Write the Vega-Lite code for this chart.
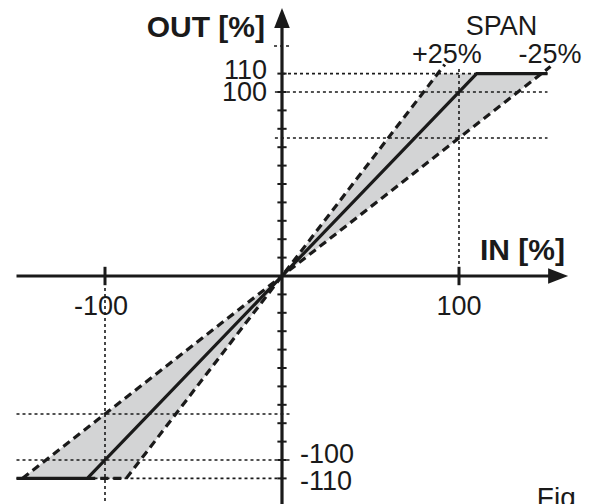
{
  "$schema": "https://vega.github.io/schema/vega-lite/v6.json",
  "width": 593,
  "height": 504,
  "autosize": {"type": "none"},
  "padding": 0,
  "background": "white",
  "config": {"view": {"stroke": null}, "text": {"font": "Liberation Sans", "color": "#1a1a1a"}},
  "layer": [
    {
      "data": {"values": [
        {"part": "up", "x": 0, "y": 0, "y2": 0},
        {"part": "up", "x": 88, "y": 110, "y2": 66},
        {"part": "up", "x": 146.7, "y": 110, "y2": 110},
        {"part": "down", "x": -146.7, "y": -110, "y2": -110},
        {"part": "down", "x": -88, "y": -66, "y2": -110},
        {"part": "down", "x": 0, "y": 0, "y2": 0}
      ]},
      "mark": {"type": "area", "color": "#d3d4d5", "opacity": 1},
      "encoding": {
        "x": {"field": "x", "type": "quantitative", "scale": {"domain": [-159.32, 175.71], "nice": false, "zero": false}, "axis": null},
        "y": {"field": "y", "type": "quantitative", "scale": {"domain": [-123.91, 150], "nice": false, "zero": false}, "axis": null},
        "y2": {"field": "y2"},
        "detail": {"field": "part"}
      }
    },
    {
      "data": {"values": [
        {"x": 0, "y": 110, "x2": 150, "y2": 110},
        {"x": -4, "y": 100, "x2": 150, "y2": 100},
        {"x": -4, "y": 75, "x2": 150, "y2": 75},
        {"x": 100, "y": 0, "x2": 100, "y2": 114},
        {"x": -150, "y": -75, "x2": 5.5, "y2": -75},
        {"x": -150, "y": -100, "x2": 5.5, "y2": -100},
        {"x": -150, "y": -110, "x2": 0, "y2": -110},
        {"x": -100, "y": 0, "x2": -100, "y2": -124},
        {"x": -4.5, "y": 125, "x2": 5, "y2": 125}
      ]},
      "mark": {"type": "rule", "color": "#1a1a1a", "strokeWidth": 1.6, "strokeDash": [3, 3]},
      "encoding": {
        "x": {"field": "x", "type": "quantitative", "scale": {"domain": [-159.32, 175.71], "nice": false, "zero": false}, "axis": null},
        "y": {"field": "y", "type": "quantitative", "scale": {"domain": [-123.91, 150], "nice": false, "zero": false}, "axis": null},
        "x2": {"field": "x2"},
        "y2": {"field": "y2"}
      }
    },
    {
      "data": {"values": [
        {"series": "+25%", "x": -110, "y": -110},
        {"series": "+25%", "x": -88, "y": -110},
        {"series": "+25%", "x": 92, "y": 115},
        {"series": "-25%", "x": -146.7, "y": -110},
        {"series": "-25%", "x": 151.7, "y": 113.8}
      ]},
      "mark": {"type": "line", "color": "#1a1a1a", "strokeWidth": 3.2, "strokeDash": [8, 5]},
      "encoding": {
        "x": {"field": "x", "type": "quantitative", "scale": {"domain": [-159.32, 175.71], "nice": false, "zero": false}, "axis": null},
        "y": {"field": "y", "type": "quantitative", "scale": {"domain": [-123.91, 150], "nice": false, "zero": false}, "axis": null},
        "detail": {"field": "series"}
      }
    },
    {
      "data": {"values": [
        {"x": -150, "y": -110},
        {"x": -110, "y": -110},
        {"x": 110, "y": 110},
        {"x": 150, "y": 110}
      ]},
      "mark": {"type": "line", "color": "#1a1a1a", "strokeWidth": 3.2},
      "encoding": {
        "x": {"field": "x", "type": "quantitative", "scale": {"domain": [-159.32, 175.71], "nice": false, "zero": false}, "axis": null},
        "y": {"field": "y", "type": "quantitative", "scale": {"domain": [-123.91, 150], "nice": false, "zero": false}, "axis": null}
      }
    },
    {
      "data": {"values": [
        {"x": -150, "y": 0, "x2": 156, "y2": 0},
        {"x": 0, "y": -124, "x2": 0, "y2": 140}
      ]},
      "mark": {"type": "rule", "color": "#1a1a1a", "strokeWidth": 3.2},
      "encoding": {
        "x": {"field": "x", "type": "quantitative", "scale": {"domain": [-159.32, 175.71], "nice": false, "zero": false}, "axis": null},
        "y": {"field": "y", "type": "quantitative", "scale": {"domain": [-123.91, 150], "nice": false, "zero": false}, "axis": null},
        "x2": {"field": "x2"},
        "y2": {"field": "y2"}
      }
    },
    {
      "data": {"values": [
        {"v": -110}, {"v": -100}, {"v": -90}, {"v": -80}, {"v": -70}, {"v": -60}, {"v": -50}, {"v": -40}, {"v": -30}, {"v": -20}, {"v": -10},
        {"v": 10}, {"v": 20}, {"v": 30}, {"v": 40}, {"v": 50}, {"v": 60}, {"v": 70}, {"v": 80}, {"v": 90}, {"v": 100}, {"v": 110}
      ]},
      "mark": {"type": "rule", "color": "#1a1a1a", "strokeWidth": 2},
      "encoding": {
        "x": {"datum": -2.6, "type": "quantitative", "scale": {"domain": [-159.32, 175.71], "nice": false, "zero": false}, "axis": null},
        "x2": {"datum": 2.6},
        "y": {"field": "v", "type": "quantitative", "scale": {"domain": [-123.91, 150], "nice": false, "zero": false}, "axis": null}
      }
    },
    {
      "data": {"values": [{"v": -100}, {"v": 100}]},
      "mark": {"type": "rule", "color": "#1a1a1a", "strokeWidth": 3},
      "encoding": {
        "x": {"field": "v", "type": "quantitative", "scale": {"domain": [-159.32, 175.71], "nice": false, "zero": false}, "axis": null},
        "y": {"datum": -5, "type": "quantitative", "scale": {"domain": [-123.91, 150], "nice": false, "zero": false}, "axis": null},
        "y2": {"datum": 5}
      }
    },
    {
      "data": {"values": [
        {"dir": "right", "x": 156, "y": 0},
        {"dir": "up", "x": 0, "y": 140.2}
      ]},
      "mark": {"type": "point", "filled": true, "opacity": 1, "color": "#1a1a1a", "strokeWidth": 0, "size": 400},
      "encoding": {
        "x": {"field": "x", "type": "quantitative", "scale": {"domain": [-159.32, 175.71], "nice": false, "zero": false}, "axis": null},
        "y": {"field": "y", "type": "quantitative", "scale": {"domain": [-123.91, 150], "nice": false, "zero": false}, "axis": null},
        "shape": {"field": "dir", "type": "nominal", "scale": {"domain": ["right", "up"], "range": ["M-1,-0.78L1,0L-1,0.78Z", "M-0.78,1L0,-1L0.78,1Z"]}, "legend": null}
      }
    },
    {
      "data": {"values": [
        {"t": "OUT [%]", "x": -9.6, "y": 130},
        {"t": "IN [%]", "x": 159.9, "y": 8.7}
      ]},
      "mark": {"type": "text", "align": "right", "baseline": "alphabetic", "fontWeight": "bold", "fontSize": 30},
      "encoding": {
        "x": {"field": "x", "type": "quantitative", "scale": {"domain": [-159.32, 175.71], "nice": false, "zero": false}, "axis": null},
        "y": {"field": "y", "type": "quantitative", "scale": {"domain": [-123.91, 150], "nice": false, "zero": false}, "axis": null},
        "text": {"field": "t"}
      }
    },
    {
      "data": {"values": [
        {"t": "SPAN", "x": 124, "y": 131},
        {"t": "+25%", "x": 93.2, "y": 115.8},
        {"t": "-25%", "x": 151.4, "y": 115.8}
      ]},
      "mark": {"type": "text", "align": "center", "baseline": "alphabetic", "fontSize": 27},
      "encoding": {
        "x": {"field": "x", "type": "quantitative", "scale": {"domain": [-159.32, 175.71], "nice": false, "zero": false}, "axis": null},
        "y": {"field": "y", "type": "quantitative", "scale": {"domain": [-123.91, 150], "nice": false, "zero": false}, "axis": null},
        "text": {"field": "t"}
      }
    },
    {
      "data": {"values": [{"t": "Fig", "x": 144, "y": -125.5}]},
      "mark": {"type": "text", "align": "left", "baseline": "alphabetic", "fontSize": 28},
      "encoding": {
        "x": {"field": "x", "type": "quantitative", "scale": {"domain": [-159.32, 175.71], "nice": false, "zero": false}, "axis": null},
        "y": {"field": "y", "type": "quantitative", "scale": {"domain": [-123.91, 150], "nice": false, "zero": false}, "axis": null},
        "text": {"field": "t"}
      }
    },
    {
      "data": {"values": [{"t": "110", "v": 110}]},
      "mark": {"type": "text", "align": "right", "baseline": "middle", "fontSize": 27, "dy": -3},
      "encoding": {
        "x": {"datum": -8.5, "type": "quantitative", "scale": {"domain": [-159.32, 175.71], "nice": false, "zero": false}, "axis": null},
        "y": {"field": "v", "type": "quantitative", "scale": {"domain": [-123.91, 150], "nice": false, "zero": false}, "axis": null},
        "text": {"field": "t"}
      }
    },
    {
      "data": {"values": [{"t": "100", "v": 100}]},
      "mark": {"type": "text", "align": "right", "baseline": "middle", "fontSize": 27, "dy": 1},
      "encoding": {
        "x": {"datum": -8.5, "type": "quantitative", "scale": {"domain": [-159.32, 175.71], "nice": false, "zero": false}, "axis": null},
        "y": {"field": "v", "type": "quantitative", "scale": {"domain": [-123.91, 150], "nice": false, "zero": false}, "axis": null},
        "text": {"field": "t"}
      }
    },
    {
      "data": {"values": [{"t": "-100", "v": -100}]},
      "mark": {"type": "text", "align": "left", "baseline": "middle", "fontSize": 27, "dy": -5},
      "encoding": {
        "x": {"datum": 10.2, "type": "quantitative", "scale": {"domain": [-159.32, 175.71], "nice": false, "zero": false}, "axis": null},
        "y": {"field": "v", "type": "quantitative", "scale": {"domain": [-123.91, 150], "nice": false, "zero": false}, "axis": null},
        "text": {"field": "t"}
      }
    },
    {
      "data": {"values": [{"t": "-110", "v": -110}]},
      "mark": {"type": "text", "align": "left", "baseline": "middle", "fontSize": 27, "dy": 4},
      "encoding": {
        "x": {"datum": 10.2, "type": "quantitative", "scale": {"domain": [-159.32, 175.71], "nice": false, "zero": false}, "axis": null},
        "y": {"field": "v", "type": "quantitative", "scale": {"domain": [-123.91, 150], "nice": false, "zero": false}, "axis": null},
        "text": {"field": "t"}
      }
    },
    {
      "data": {"values": [{"t": "-100", "v": -100}]},
      "mark": {"type": "text", "align": "center", "baseline": "middle", "fontSize": 27, "dy": 31, "dx": -4},
      "encoding": {
        "x": {"field": "v", "type": "quantitative", "scale": {"domain": [-159.32, 175.71], "nice": false, "zero": false}, "axis": null},
        "y": {"datum": 0, "type": "quantitative", "scale": {"domain": [-123.91, 150], "nice": false, "zero": false}, "axis": null},
        "text": {"field": "t"}
      }
    },
    {
      "data": {"values": [{"t": "100", "v": 100}]},
      "mark": {"type": "text", "align": "center", "baseline": "middle", "fontSize": 27, "dy": 31},
      "encoding": {
        "x": {"field": "v", "type": "quantitative", "scale": {"domain": [-159.32, 175.71], "nice": false, "zero": false}, "axis": null},
        "y": {"datum": 0, "type": "quantitative", "scale": {"domain": [-123.91, 150], "nice": false, "zero": false}, "axis": null},
        "text": {"field": "t"}
      }
    }
  ]
}
